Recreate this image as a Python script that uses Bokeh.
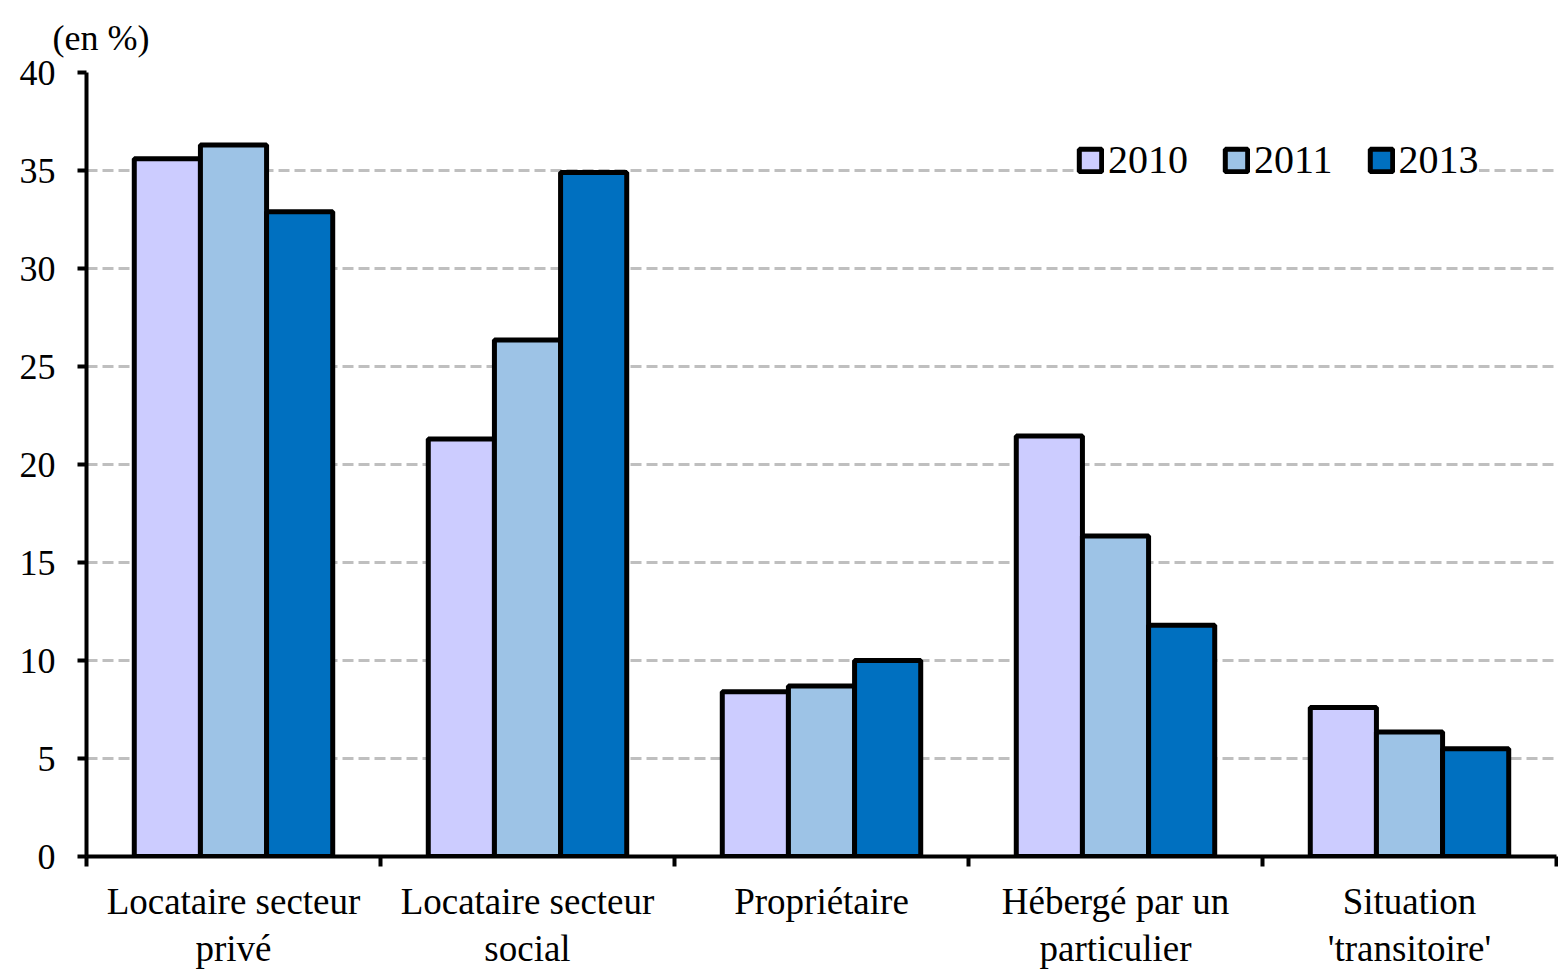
from bokeh.plotting import figure
from bokeh.models import (ColumnDataSource, FixedTicker, Legend, LegendItem, Title,
                          Range1d)
from bokeh.transform import dodge
from bokeh.embed import file_html
from bokeh.resources import INLINE

categories = ["Locataire secteur\nprivé", "Locataire secteur\nsocial", "Propriétaire",
              "Hébergé par un\nparticulier", "Situation\n'transitoire'"]
years = ["2010", "2011", "2013"]
v2010 = [35.6, 21.3, 8.4, 21.45, 7.6]
v2011 = [36.3, 26.35, 8.7, 16.35, 6.35]
v2013 = [32.9, 34.9, 10.0, 11.8, 5.5]
colors = ["#CCCCFF", "#9DC3E6", "#0070C0"]
y_ticks = [0, 5, 10, 15, 20, 25, 30, 35, 40]

n = len(categories)
centers = [i + 0.5 for i in range(n)]
src = ColumnDataSource(dict(x=centers, v2010=v2010, v2011=v2011, v2013=v2013))

FONT = "Liberation Serif"

p = figure(width=1558, height=971, output_backend="svg", toolbar_location=None,
           x_range=Range1d(0, n), y_range=Range1d(0, 40),
           min_border_left=86, min_border_right=2, min_border_top=72,
           min_border_bottom=115)
p.outline_line_color = None
p.background_fill_color = "white"

bw = 0.225
renderers = []
for off, col, c in zip([-bw, 0, bw], ["v2010", "v2011", "v2013"], colors):
    r = p.vbar(x=dodge("x", off, range=p.x_range), top=col, width=bw, source=src,
               fill_color=c, line_color="black", line_width=5)
    renderers.append(r)

# grid
p.xgrid.grid_line_color = None
p.ygrid.ticker = FixedTicker(ticks=y_ticks)
p.ygrid.grid_line_color = "#BFBFBF"
p.ygrid.grid_line_width = 3
p.ygrid.grid_line_dash = "11 5"
p.ygrid.level = "underlay"

# y axis
p.yaxis.ticker = FixedTicker(ticks=y_ticks)
p.yaxis.axis_line_width = 4
p.yaxis.axis_line_color = "black"
p.yaxis.major_tick_line_width = 4
p.yaxis.major_tick_out = 9
p.yaxis.major_tick_in = 0
p.yaxis.minor_tick_line_color = None
p.yaxis.major_label_text_font = FONT
p.yaxis.major_label_text_font_size = "36px"
p.yaxis.major_label_text_color = "black"
p.yaxis.major_label_standoff = 22

# x axis
p.xaxis.ticker = FixedTicker(ticks=centers, minor_ticks=list(range(n + 1)))
p.xaxis.major_label_overrides = {c: lab for c, lab in zip(centers, categories)}
p.xaxis.axis_line_width = 4
p.xaxis.axis_line_color = "black"
p.xaxis.major_tick_line_color = None
p.xaxis.minor_tick_line_color = "black"
p.xaxis.minor_tick_line_width = 4
p.xaxis.minor_tick_out = 10
p.xaxis.minor_tick_in = 0
p.xaxis.major_label_text_font = FONT
p.xaxis.major_label_text_font_size = "37px"
p.xaxis.major_label_text_line_height = 1.15
p.xaxis.major_label_text_color = "black"
p.xaxis.major_label_standoff = 14

# unit label
p.add_layout(Title(text="(en %)", align="left", offset=-34, standoff=26,
                   vertical_align="top",
                   text_font=FONT, text_font_size="36px", text_font_style="normal",
                   text_color="black"), "above")

legend = Legend(items=[LegendItem(label=y, renderers=[r]) for y, r in zip(years, renderers)],
                orientation="horizontal", location=(990, 673),
                label_text_font=FONT, label_text_font_size="40px",
                label_text_color="black", glyph_width=28, glyph_height=28,
                spacing=34, padding=8, margin=0, label_standoff=4,
                border_line_color=None, background_fill_color="white",
                background_fill_alpha=1.0)
p.add_layout(legend, "center")

open("out.html", "w").write(file_html(p, INLINE))
